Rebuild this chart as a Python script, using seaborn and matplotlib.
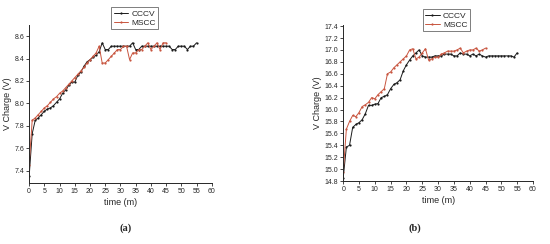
import numpy as np
import pandas as pd
import matplotlib
matplotlib.use('Agg')
import matplotlib.pyplot as plt
import seaborn as sns

# panel (a)
cccv_a = [7.35, 7.73, 7.85, 7.87, 7.90, 7.93, 7.95, 7.96, 7.98, 8.01, 8.04, 8.09, 8.12, 8.16,
          8.19, 8.19, 8.25, 8.28, 8.33, 8.37, 8.39, 8.41, 8.43, 8.46, 8.54, 8.48, 8.48, 8.51,
          8.51, 8.51, 8.51, 8.51, 8.51, 8.51, 8.54, 8.48, 8.48, 8.51, 8.51, 8.51, 8.51, 8.51,
          8.51, 8.51, 8.51, 8.51, 8.51, 8.48, 8.48, 8.51, 8.51, 8.51, 8.48, 8.51, 8.51, 8.54]
mscc_a = [7.45, 7.85, 7.87, 7.90, 7.93, 7.96, 7.98, 8.01, 8.04, 8.06, 8.09, 8.11, 8.14, 8.17,
          8.20, 8.23, 8.26, 8.29, 8.32, 8.36, 8.39, 8.42, 8.45, 8.51, 8.36, 8.36, 8.39, 8.42,
          8.45, 8.48, 8.48, 8.51, 8.51, 8.39, 8.45, 8.45, 8.48, 8.48, 8.51, 8.54, 8.48, 8.51,
          8.54, 8.48, 8.54, 8.54]

# panel (b)
cccv_b = [14.85, 15.37, 15.40, 15.70, 15.75, 15.78, 15.83, 15.93, 16.07, 16.07, 16.09, 16.10,
          16.20, 16.22, 16.25, 16.35, 16.42, 16.45, 16.50, 16.65, 16.75, 16.83, 16.90, 16.95,
          17.00, 16.90, 16.88, 16.88, 16.88, 16.90, 16.90, 16.90, 16.93, 16.93, 16.93, 16.90,
          16.90, 16.95, 16.93, 16.93, 16.90, 16.93, 16.90, 16.93, 16.90, 16.88, 16.90, 16.90,
          16.90, 16.90, 16.90, 16.90, 16.90, 16.90, 16.88, 16.95]
mscc_b = [14.95, 15.67, 15.80, 15.90, 15.88, 15.95, 16.05, 16.08, 16.12, 16.20, 16.18, 16.25,
          16.30, 16.35, 16.60, 16.63, 16.70, 16.75, 16.80, 16.85, 16.90, 17.00, 17.02, 16.85,
          16.88, 16.95, 17.02, 16.83, 16.85, 16.88, 16.88, 16.93, 16.95, 16.98, 16.98, 16.98,
          17.00, 17.03, 16.95, 16.98, 17.00, 17.00, 17.03, 16.98, 17.00, 17.03]

x_ticks = np.arange(0, 61, 5)
yticks_a = np.arange(7.4, 8.61, 0.2)
yticks_b = np.arange(14.8, 17.41, 0.2)

sns.set_style('ticks')
plt.rcParams['font.family'] = ['Liberation Sans', 'DejaVu Sans']

fig = plt.figure(figsize=(5.5, 2.44), dpi=100)
ax1 = fig.add_axes([0.053, 0.25, 0.332, 0.648])
ax2 = fig.add_axes([0.624, 0.258, 0.345, 0.64])

black = '#1a1a1a'
red = '#c8553f'


def draw(ax, cccv, mscc, yticks, ylim, leg_anchor):
    sns.lineplot(x=np.arange(len(cccv)), y=cccv, ax=ax, color=black, lw=0.7,
                 marker='o', markersize=1.6, markeredgewidth=0, label='CCCV')
    sns.lineplot(x=np.arange(len(mscc)), y=mscc, ax=ax, color=red, lw=0.7,
                 marker='o', markersize=1.6, markeredgewidth=0, label='MSCC')
    ax.set_xlim(0, 60)
    ax.set_ylim(*ylim)
    ax.set_xticks(x_ticks)
    ax.set_yticks(yticks)
    ax.set_yticklabels(['%.1f' % v for v in yticks])
    ax.tick_params(labelsize=5, length=2, width=0.6, pad=1.5)
    ax.set_xlabel('time (m)', fontsize=6.5, labelpad=2)
    ax.set_ylabel('V Charge (V)', fontsize=6.5, labelpad=2)
    sns.despine(ax=ax)
    for s in ['left', 'bottom']:
        ax.spines[s].set_linewidth(0.7)
    leg = ax.legend(loc='upper left', bbox_to_anchor=leg_anchor, fontsize=6,
                    frameon=True, fancybox=False, borderpad=0.3, labelspacing=0.15,
                    handlelength=1.7, handletextpad=0.4, borderaxespad=0)
    leg.get_frame().set_edgecolor('#444444')
    leg.get_frame().set_linewidth(0.6)


draw(ax1, cccv_a, mscc_a, yticks_a, (7.29, 8.70), (0.45, 1.11))
draw(ax2, cccv_b, mscc_b, yticks_b, (14.8, 17.42), (0.42, 1.10))

fig.text(0.228, 0.055, '(a)', ha='center', fontsize=7.5, fontweight='bold',
         family='Liberation Serif')
fig.text(0.755, 0.055, '(b)', ha='center', fontsize=7.5, fontweight='bold',
         family='Liberation Serif')

fig.savefig('out.png', dpi=100)
